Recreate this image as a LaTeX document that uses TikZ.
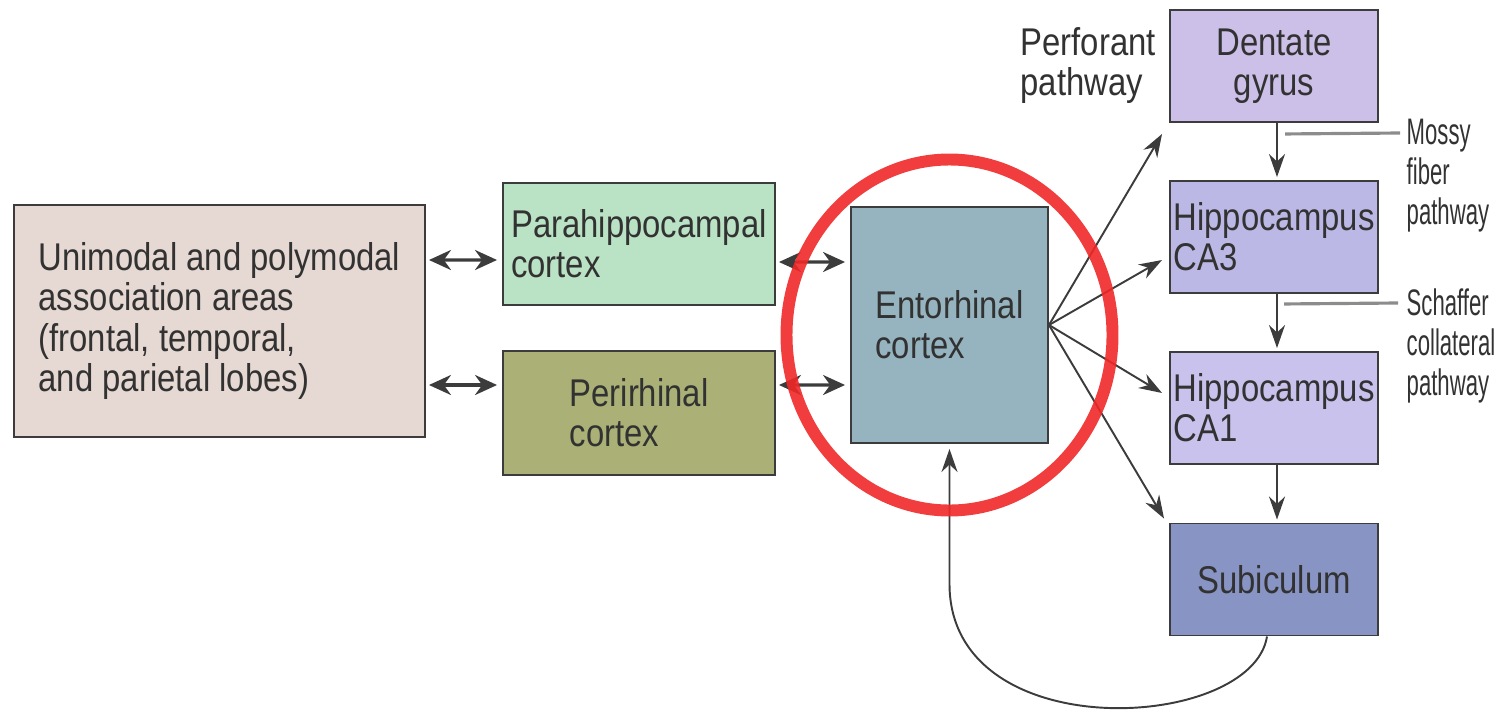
\documentclass[tikz,border=0pt]{standalone}
\usepackage{fontspec}
\setmainfont{Liberation Sans}[FakeStretch=0.85]
\newfontfamily\narrowfont{Liberation Sans}[FakeStretch=0.6]
\usetikzlibrary{arrows.meta,positioning,calc}

\definecolor{uniC}{RGB}{230,216,210}
\definecolor{paraC}{RGB}{186,226,196}
\definecolor{periC}{RGB}{170,176,118}
\definecolor{entoC}{RGB}{150,180,192}
\definecolor{dentC}{RGB}{204,192,232}
\definecolor{ca3C}{RGB}{188,184,230}
\definecolor{ca1C}{RGB}{200,194,236}
\definecolor{subC}{RGB}{136,148,196}
\definecolor{edge}{RGB}{60,60,60}
\definecolor{ink}{RGB}{50,50,50}
\definecolor{leadC}{RGB}{140,140,140}
\definecolor{ringC}{RGB}{240,40,40}

\begin{document}
\begin{tikzpicture}[
  every node/.style={font=\fontsize{11}{11.4}\selectfont, text=ink},
  area/.style={draw=edge, line width=0.55pt, align=left, inner sep=0pt},
  hippo/.style={area, minimum width=2.08cm, minimum height=1.12cm},
  note/.style={align=left, inner sep=0pt, anchor=north west},
  side/.style={note, font=\narrowfont\fontsize{10.5}{11.4}\selectfont},
  arr/.style={-{Stealth[length=2.3mm,width=1.6mm]}, line width=0.55pt, draw=edge},
  dbl/.style={{Stealth[length=2.2mm,width=2mm]}-{Stealth[length=2.2mm,width=2mm]}, line width=0.9pt, draw=edge, shorten <=0.03cm, shorten >=0.05cm},
  lead/.style={draw=leadC, line width=0.9pt},
  ring/.style={draw=ringC, draw opacity=0.9, line width=3.4pt}
]
\useasboundingbox (0,0) rectangle (14.98,7.15);

\node[area, fill=uniC, minimum width=4.11cm, minimum height=2.32cm] (uni) at (2.195,3.94) {Unimodal and polymodal\\association areas\\(frontal, temporal,\\and parietal lobes)};
\node[area, fill=paraC, minimum width=2.72cm, minimum height=1.22cm] (para) at (6.39,4.71) {Parahippocampal\\cortex};
\node[area, fill=periC, minimum width=2.72cm, minimum height=1.24cm] (peri) at (6.39,3.02) {Perirhinal\\cortex};
\node[area, fill=entoC, minimum width=1.97cm, minimum height=2.36cm] (ento) at (9.495,3.90) {Entorhinal\\cortex};

\node[hippo, fill=dentC, align=center] (dent) at (12.74,6.49) {Dentate\\gyrus};
\node[hippo, fill=ca3C] (ca3) at (12.74,4.78) {Hippocampus\\CA3};
\node[hippo, fill=ca1C] (ca1) at (12.74,3.07) {Hippocampus\\CA1};
\node[hippo, fill=subC] (sub) at (12.74,1.355) {Subiculum};

\node[note] (perf) at (10.20,6.88) {Perforant\\pathway};
\node[side] (mossy) at (14.06,5.97) {Mossy\\fiber\\pathway};
\node[side] (schaf) at (14.06,4.27) {Schaffer\\collateral\\pathway};

\draw[dbl] ([yshift=0.61cm]uni.east) -- ([yshift=-0.16cm]para.west);
\draw[dbl] ([yshift=-0.64cm]uni.east) -- ([yshift=0.28cm]peri.west);
\draw[dbl] ([yshift=-0.18cm]para.east) -- ([yshift=0.63cm]ento.west);
\draw[dbl] ([yshift=0.28cm]peri.east) -- ([yshift=-0.60cm]ento.west);

\draw[arr] (ento.east) -- ([shift={(-0.07,-0.11)}]dent.south west);
\draw[arr] (ento.east) -- ([shift={(-0.07,-0.23)}]ca3.west);
\draw[arr] (ento.east) -- ([shift={(-0.07,0.15)}]ca1.west);
\draw[arr] (ento.east) -- ([shift={(-0.05,0.04)}]sub.north west);

\draw[arr] ([xshift=0.03cm]dent.south) -- ([xshift=0.03cm,yshift=0.03cm]ca3.north);
\draw[arr] ([xshift=0.03cm]ca3.south) -- ([xshift=0.03cm,yshift=0.03cm]ca1.north);
\draw[arr] ([xshift=0.03cm]ca1.south) -- ([xshift=0.03cm,yshift=0.03cm]sub.north);

\draw[lead] ([shift={(0.11,-0.11)}]dent.south) -- ([shift={(-0.06,-0.15)}]mossy.north west);
\draw[lead] ([shift={(0.10,-0.10)}]ca3.south) -- ([shift={(-0.08,-0.15)}]schaf.north west);

\draw[arr] ([xshift=-0.07cm]sub.south) .. controls +(-0.15,-0.95) and +(0,-1.65) .. ([yshift=-1.4cm]ento.south) -- ([yshift=-0.05cm]ento.south);

% highlight round the entorhinal cortex
\draw[ring] ([yshift=-0.1cm]ento.center) ellipse [x radius=1.63cm, y radius=1.755cm];
\end{tikzpicture}
\end{document}
